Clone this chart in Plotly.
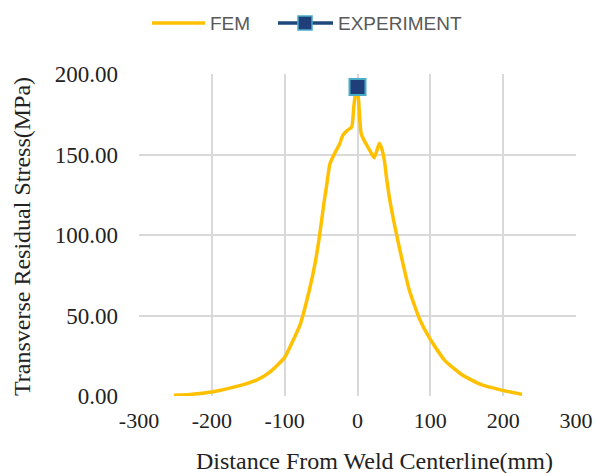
import plotly.graph_objects as go

fem_x = [-252, -230, -200, -170, -138, -120, -100, -88, -79, -66, -58, -52, -46, -42, -38, -31, -25, -20, -14, -8, -5, -2, 0,
         2, 5, 10, 15, 20, 23, 27, 30, 33, 37, 40, 45, 51, 60, 71, 85, 99, 120, 144, 170, 199, 226]
fem_y = [0.5, 1, 2.5, 5.5, 10, 15, 24, 35, 44, 66, 83, 100, 120, 132, 144, 151, 156, 162, 165, 167, 180, 190, 191,
         180, 163, 158, 154, 150, 148, 153, 157, 154, 146, 135, 120, 106, 87, 66, 48, 36, 22, 13, 7, 3.5, 1]

exp_x = [0]
exp_y = [192]

x_ticks = [-300, -200, -100, 0, 100, 200, 300]
x_tick_labels = ["-300", "-200", "-100", "0", "100", "200", "300"]
y_ticks = [0, 50, 100, 150, 200]

x_title = "Distance From Weld Centerline(mm)"
y_title = "Transverse Residual Stress(MPa)"
legend_names = ["FEM", "EXPERIMENT"]

FEM_COLOR = "#FFC000"
EXP_LINE = "#1F497D"
EXP_FILL = "#1F3F7A"
EXP_EDGE = "#4BACC6"

serif = "Liberation Serif, Times New Roman, serif"
W, H = 596, 473
L, R, T, B = 139, 20, 74, 77
PW, PH = W - L - R, H - T - B


def px(x):
    return (x - L) / PW


def py(y):
    return (H - B - y) / PH


fig = go.Figure()
fig.add_trace(go.Scatter(x=fem_x, y=fem_y, mode="lines", name=legend_names[0], showlegend=False,
                         line=dict(color=FEM_COLOR, width=3.5, shape="spline", smoothing=0.5)))
fig.add_trace(go.Scatter(x=exp_x, y=exp_y, mode="markers", name=legend_names[1], showlegend=False,
                         marker=dict(symbol="square", size=16, color=EXP_FILL,
                                     line=dict(color=EXP_EDGE, width=2))))

# legend drawn manually (Excel-style long legend lines)
leg_y = py(23)
shapes = [
    dict(type="line", xref="paper", yref="paper", x0=px(152), x1=px(205), y0=leg_y, y1=leg_y,
         line=dict(color=FEM_COLOR, width=3.5)),
    dict(type="line", xref="paper", yref="paper", x0=px(278), x1=px(333), y0=leg_y, y1=leg_y,
         line=dict(color=EXP_LINE, width=3.5)),
    dict(type="rect", xref="paper", yref="paper", x0=px(298), x1=px(312), y0=py(30), y1=py(16),
         fillcolor=EXP_FILL, line=dict(color=EXP_EDGE, width=1.5)),
]

legend_font = dict(family="Liberation Sans, Arial", size=19, color="#595959")
annotations = [
    dict(text=legend_names[0], xref="paper", yref="paper", x=px(208), y=leg_y,
         xanchor="left", yanchor="middle", showarrow=False, font=legend_font),
    dict(text=legend_names[1], xref="paper", yref="paper", x=px(336), y=leg_y,
         xanchor="left", yanchor="middle", showarrow=False, font=legend_font),
    dict(text=x_title, xref="paper", yref="paper", x=px(374), y=py(461),
         xanchor="center", yanchor="middle", showarrow=False,
         font=dict(family=serif, size=24, color="#222")),
    dict(text=y_title, xref="paper", yref="paper", x=px(22), y=py(237),
         xanchor="center", yanchor="middle", showarrow=False, textangle=-90,
         font=dict(family=serif, size=24, color="#222")),
]

fig.update_layout(
    width=W, height=H,
    margin=dict(l=L, r=R, t=T, b=B),
    paper_bgcolor="white", plot_bgcolor="white",
    showlegend=False,
    xaxis=dict(range=[-300, 300], tickvals=x_ticks, ticktext=x_tick_labels, automargin=False,
               showgrid=True, gridcolor="#D9D9D9", gridwidth=1.5, zeroline=False,
               showline=False, ticks="", ticklabelstandoff=9,
               tickfont=dict(family=serif, size=22, color="#222")),
    yaxis=dict(range=[0, 200], tickvals=y_ticks, tickformat=".2f", automargin=False,
               showgrid=True, gridcolor="#D9D9D9", gridwidth=1.5, zeroline=False,
               showline=False, ticks="", ticklabelstandoff=20,
               tickfont=dict(family=serif, size=23, color="#222")),
    shapes=shapes,
    annotations=annotations,
)
fig.write_html("out.html", config={"displayModeBar": False},
               post_script="document.body.style.margin='0';")
